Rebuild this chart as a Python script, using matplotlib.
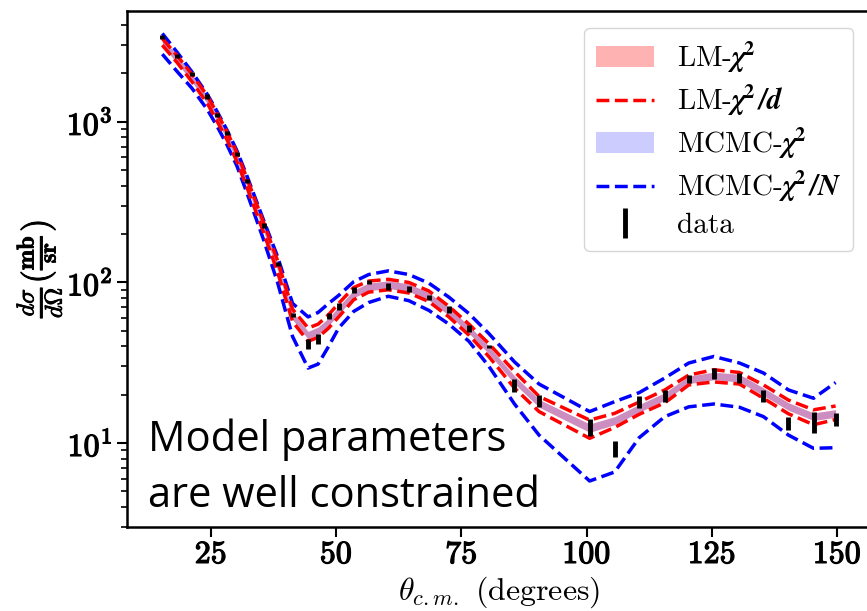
import numpy as np
import matplotlib
matplotlib.use('Agg')
import matplotlib.pyplot as plt
import matplotlib.patheffects as pe
from matplotlib.ticker import LogLocator, NullFormatter

plt.rcParams['mathtext.fontset'] = 'cm'
plt.rcParams['font.family'] = 'serif'
plt.rcParams['font.serif'] = ['cmr10', 'DejaVu Serif']
plt.rcParams['axes.unicode_minus'] = False

# scattering angle (degrees) and measured cross section
theta = [15.3, 18.3, 21.2, 24.3, 26.3, 28.2, 30.2, 32.2, 35.5, 38.3, 41.3, 44.4,
         46.4, 48.5, 50.5, 53.5, 56.5, 60.4, 64.5, 68.5, 72.5, 76.5, 80.5, 85.6,
         90.5, 100.6, 105.6, 110.5, 115.6, 120.4, 125.4, 130.5, 135.3, 140.3,
         145.3, 149.7]
xs_data = [3365, 2585, 1995, 1440, 1106, 855, 628, 430, 226, 130, 63, 41.4,
           44.5, 62, 70.5, 90, 101, 95, 91, 81, 67.6, 51.6, 40, 23,
           18.3, 12.6, 9.26, 18.1, 19.7, 25, 27.2, 25.6, 19.7, 13.3,
           13.6, 14.1]
xs_err = [100, 78, 60, 43, 33, 26, 19, 13, 6.8, 3.9, 1.9, 2.8,
          2.9, 2.7, 3.5, 3.9, 3.1, 4.8, 3.9, 2.8, 3.4, 2.6, 1.0, 2.2,
          1.65, 1.5, 1.1, 1.6, 1.65, 1.5, 2.2, 1.8, 1.7, 1.25,
          2.0, 1.27]

# LM fit (chi^2) with its band, and the chi^2/d band edges
lm_fit = [3150, 2450, 1880, 1370, 1060, 820, 600, 415, 220, 126, 62, 47,
          50, 57, 67, 85, 94, 97, 93, 82, 66, 51, 38, 24.8,
          17.7, 12.4, 13.8, 16.5, 19.5, 24.8, 26.2, 25.4, 20.9, 16.9,
          14.6, 15.3]
lm_unc = [175, 135, 103, 75, 58, 45, 33, 23, 12, 7, 3.4, 2.6,
          2.8, 3.1, 3.7, 4.7, 5.2, 5.3, 5.1, 4.5, 3.6, 2.8, 2.1, 1.4,
          1.0, 0.75, 0.8, 0.9, 1.07, 1.36, 1.44, 1.4, 1.15, 0.93,
          0.8, 0.84]
lm_d_hi = [3300, 2570, 1980, 1450, 1120, 870, 640, 445, 237, 137, 68, 52,
           55, 63, 74, 93, 102, 104.5, 100, 88.5, 71, 55, 41.5, 27.9,
           19.5, 13.9, 15.3, 18.0, 21.4, 26.5, 28.6, 27.5, 23, 18.5,
           16.1, 17.0]
lm_d_lo = [3000, 2330, 1780, 1300, 1000, 775, 565, 390, 205, 116, 57, 43,
           45.5, 52, 61, 78, 87, 90, 86, 76, 61, 47, 34.5, 22,
           15.7, 10.7, 12.5, 15.1, 17.8, 23, 24, 23.3, 19, 15.2,
           13.0, 14.0]

# MCMC fit (chi^2) with its band, and the chi^2/N band edges
mcmc_fit = [3150, 2450, 1880, 1370, 1060, 820, 600, 415, 220, 126, 62, 47,
            50, 57, 67, 85, 94, 97, 93, 82, 66, 51, 38, 24.8,
            17.7, 12.4, 13.8, 16.5, 19.5, 24.8, 26.2, 25.4, 20.9, 16.9,
            14.6, 15.3]
mcmc_unc = [170, 130, 100, 72, 56, 44, 32, 22, 11.5, 6.8, 3.3, 2.5,
            2.7, 3.0, 3.6, 4.6, 5.0, 5.2, 5.0, 4.4, 3.5, 2.7, 2.0, 1.35,
            0.97, 0.72, 0.78, 0.88, 1.04, 1.33, 1.4, 1.36, 1.12, 0.9,
            0.78, 0.82]
mcmc_n_hi = [3550, 2700, 2050, 1480, 1150, 890, 660, 460, 245, 145, 74, 61,
             65, 74, 83, 101, 112, 118, 112, 99, 81, 64, 48, 32,
             23.3, 15.7, 18.1, 20.6, 25.4, 31.5, 34.6, 31.5, 27.3, 21.4,
             19, 23.8]
mcmc_n_lo = [2640, 2050, 1620, 1190, 930, 720, 530, 360, 185, 100, 46, 29.3,
             31, 40, 52, 66, 75, 82, 77, 67, 55, 43, 30, 17.5,
             11.2, 5.8, 6.6, 10.8, 14.6, 16.8, 17.5, 16.7, 14.6, 11.2,
             9.27, 9.35]

x_ticks = [25, 50, 75, 100, 125, 150]
y_ticks = [10, 100, 1000]

theta = np.array(theta)
lm_fit = np.array(lm_fit)
lm_unc = np.array(lm_unc)
mcmc_fit = np.array(mcmc_fit)
mcmc_unc = np.array(mcmc_unc)

fig = plt.figure(figsize=(8.67, 6.11), dpi=100)
ax = fig.add_axes([0.1465, 0.1375, 0.858, 0.8445])

h_lm = ax.fill_between(theta, lm_fit - lm_unc, lm_fit + lm_unc, color='red',
                       alpha=0.3, lw=0, label=r'LM-$\mathbfit{\chi}^{\mathbf{2}}$')
h_mc = ax.fill_between(theta, mcmc_fit - mcmc_unc, mcmc_fit + mcmc_unc, color='blue',
                       alpha=0.2, lw=0, label=r'MCMC-$\mathbfit{\chi}^{\mathbf{2}}$')
h_n, = ax.plot(theta, mcmc_n_hi, 'b--', lw=2.5,
               label=r'MCMC-$\mathbfit{\chi}^{\mathbf{2}}\,\mathbfit{/N}$')
ax.plot(theta, mcmc_n_lo, 'b--', lw=2.5)
h_d, = ax.plot(theta, lm_d_hi, 'r--', lw=2.5,
               label=r'LM-$\mathbfit{\chi}^{\mathbf{2}}\,\mathbfit{/d}$')
ax.plot(theta, lm_d_lo, 'r--', lw=2.5)
h_data = ax.errorbar(theta, xs_data, yerr=xs_err, fmt='none', ecolor='k',
                     elinewidth=3.5, capsize=0, label='data', zorder=5)

ax.set_yscale('log')
ax.set_xlim(8.25, 156.75)
ax.set_ylim(3, 4900)

bold = [pe.withStroke(linewidth=0.9, foreground='black')]

ax.set_xticks(x_ticks)
ax.set_xticklabels([r'$\mathbf{%d}$' % t for t in x_ticks])
ax.set_yticks(y_ticks)
ax.set_yticklabels([r'$\mathbf{10^{%d}}$' % int(np.log10(t)) for t in y_ticks])
ax.yaxis.set_minor_locator(LogLocator(base=10, subs=np.arange(2, 10)))
ax.yaxis.set_minor_formatter(NullFormatter())
ax.tick_params(which='major', length=7, width=1.5, labelsize=23)
ax.tick_params(which='minor', length=4, width=1.2)
for lbl in ax.get_xticklabels() + ax.get_yticklabels():
    lbl.set_path_effects(bold)
for s in ax.spines.values():
    s.set_linewidth(1.8)

ax.set_xlabel(r'$\theta_{c.m.}$ (degrees)', fontsize=23, labelpad=4)
ylab = ax.set_ylabel(r'$\frac{d\sigma}{d\Omega}(\frac{\mathbf{mb}}{\mathbf{sr}})$',
                     fontsize=25, labelpad=2)
ylab.set_path_effects([pe.withStroke(linewidth=0.6, foreground='black')])

leg = ax.legend(handles=[h_lm, h_d, h_mc, h_n, h_data], loc='upper right',
                fontsize=21, handlelength=2.0, labelspacing=0.3,
                borderaxespad=0.6)
for t in leg.get_texts():
    t.set_math_fontfamily('stix')

fig.text(148 / 867, 1 - 450.7 / 611, 'Model parameters', family='Open Sans',
         fontsize=30, va='baseline', ha='left')
fig.text(148 / 867, 1 - 506.7 / 611, 'are well constrained', family='Open Sans',
         fontsize=30, va='baseline', ha='left')

fig.savefig('out.png', dpi=100)
